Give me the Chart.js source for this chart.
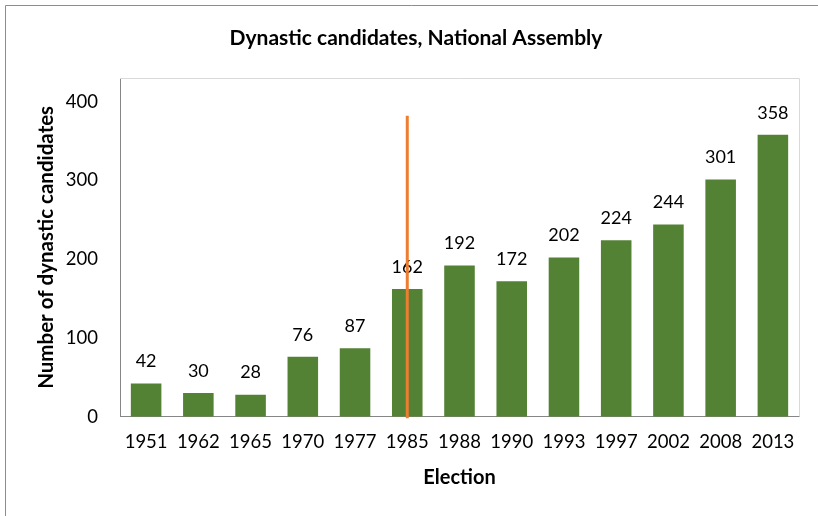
<!DOCTYPE html>
<html>
<head>
<meta charset="utf-8">
<script src="https://cdn.jsdelivr.net/npm/chart.js@4.4.1/dist/chart.umd.min.js"></script>
<style>
  body { margin: 0; background: #fff; }
</style>
</head>
<body>
<canvas id="myChart" width="818" height="516"></canvas>
<script>
const elections = ['1951', '1962', '1965', '1970', '1977', '1985', '1988', '1990', '1993', '1997', '2002', '2008', '2013'];
const candidates = [42, 30, 28, 76, 87, 162, 192, 172, 202, 224, 244, 301, 358];
const yTicks = [0, 100, 200, 300, 400];

// orange marker line at 1985
const markerYear = '1985';
const markerFrom = -2;
const markerTo = 382;

const fontName = 'Lato';

const extras = {
    id: 'extras',
    afterDatasetsDraw(chart) {
        const c = chart.ctx;
        const area = chart.chartArea;
        const x = chart.scales.x;
        const y = chart.scales.y;

        // plot frame top + right
        c.save();
        c.strokeStyle = '#d9d9d9';
        c.lineWidth = 1;
        c.beginPath();
        c.moveTo(area.left, area.top + 0.5);
        c.lineTo(area.right + 0.5, area.top + 0.5);
        c.lineTo(area.right + 0.5, area.bottom);
        c.stroke();

        // outer frame
        c.strokeStyle = '#8c8c8c';
        c.beginPath();
        c.moveTo(5.5, chart.height);
        c.lineTo(5.5, 5.5);
        c.lineTo(chart.width, 5.5);
        c.stroke();

        // value labels
        const meta = chart.getDatasetMeta(0);
        c.fillStyle = '#000';
        c.font = '18px ' + fontName;
        c.textAlign = 'center';
        c.textBaseline = 'middle';
        meta.data.forEach((bar, i) => {
            c.fillText(String(candidates[i]), bar.x, bar.y - 22);
        });

        // marker line
        const mx = x.getPixelForValue(elections.indexOf(markerYear));
        c.strokeStyle = '#ED7D31';
        c.lineWidth = 3;
        c.beginPath();
        c.moveTo(mx, y.getPixelForValue(markerFrom));
        c.lineTo(mx, y.getPixelForValue(markerTo));
        c.stroke();
        c.restore();
    }
};

const chart = new Chart(document.getElementById('myChart'), {
    type: 'bar',
    data: {
        labels: elections,
        datasets: [{
            label: 'Dynastic candidates',
            data: candidates,
            backgroundColor: '#548235',
            borderWidth: 0,
            categoryPercentage: 1,
            barPercentage: 0.585
        }]
    },
    options: {
        responsive: false,
        animation: false,
        layout: { padding: { top: 0, left: 33, right: 19, bottom: 0 } },
        plugins: {
            legend: { display: false },
            tooltip: { enabled: false },
            title: {
                display: true,
                text: 'Dynastic candidates, National Assembly',
                color: '#000',
                font: { family: fontName, size: 21, weight: 'bold' },
                padding: { top: 25.4, bottom: 27.4 }
            }
        },
        scales: {
            x: {
                grid: { display: false, drawTicks: false },
                border: { display: true, color: '#868686', width: 1 },
                ticks: {
                    color: '#000',
                    font: { family: fontName, size: 18.5 },
                    padding: 14,
                    autoSkip: false,
                    maxRotation: 0,
                    minRotation: 0
                },
                title: {
                    display: true,
                    text: 'Election',
                    color: '#000',
                    font: { family: fontName, size: 20, weight: 'bold' },
                    padding: { top: 0, bottom: 26 }
                },
                afterFit(s) { s.height = 516 - 416.7; }
            },
            y: {
                min: 0,
                max: 430,
                grid: { display: false, drawTicks: false },
                border: { display: true, color: '#868686', width: 1 },
                ticks: {
                    stepSize: 100,
                    color: '#000',
                    font: { family: fontName, size: 18.5 },
                    padding: 22
                },
                afterBuildTicks(s) {
                    s.ticks = yTicks.map(v => ({ value: v }));
                },
                title: {
                    display: true,
                    text: 'Number of dynastic candidates',
                    color: '#000',
                    font: { family: fontName, size: 20.5, weight: 'bold' },
                    padding: { top: 1, bottom: 0 }
                },
                afterFit(s) { s.width = 120 - 33; }
            }
        }
    },
    plugins: [extras]
});
</script>
</body>
</html>
